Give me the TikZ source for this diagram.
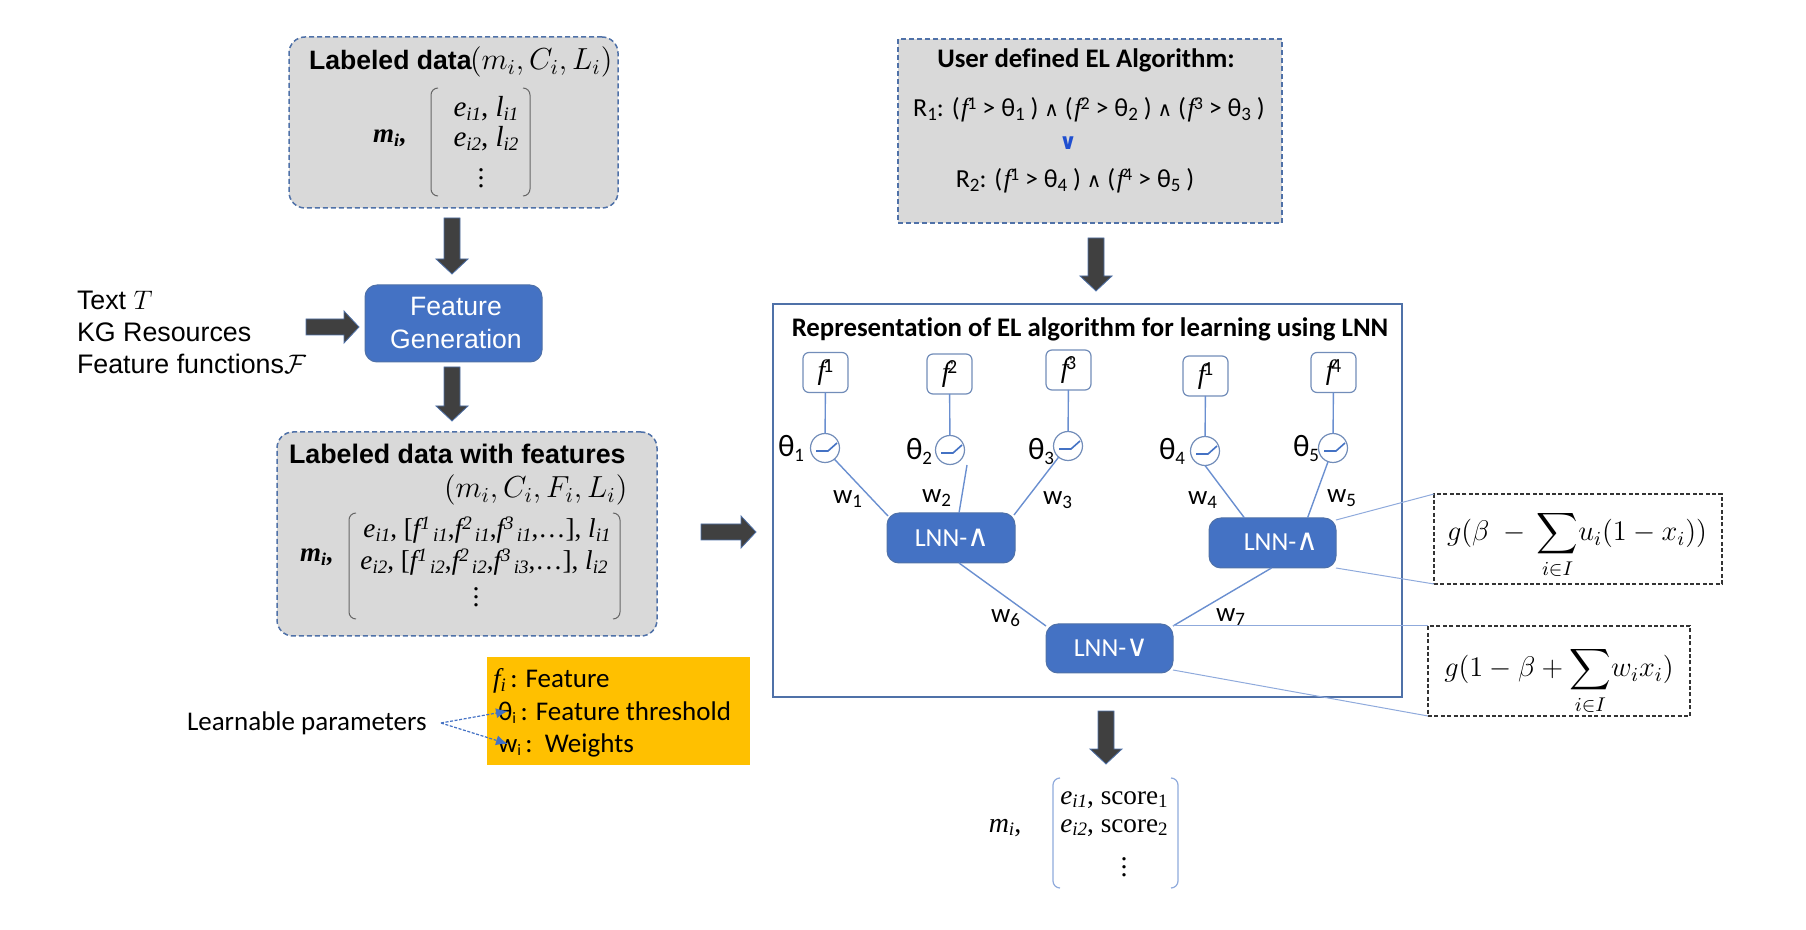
\documentclass[tikz,border=0pt]{standalone}
\usepackage{fix-cm}
\usepackage[no-math]{fontspec}
\usepackage{amsmath}
\setmainfont{Liberation Sans}
\newfontfamily\carl[Ligatures=NoCommon]{Carlito}
\newfontfamily\ser{Liberation Serif}
\newfontfamily\dv{DejaVu Sans}
\usetikzlibrary{calc,arrows.meta}
\definecolor{boxgray}{HTML}{D9D9D9}
\definecolor{fgblue}{HTML}{4472C4}
\definecolor{dashblue}{HTML}{4F71A8}
\definecolor{linkblue}{HTML}{6A8FD0}
\definecolor{thinblue}{HTML}{8FAADC}
\definecolor{darkarrow}{HTML}{404040}
\definecolor{yellowbox}{HTML}{FFC000}
\definecolor{orbl}{HTML}{1F4FD0}
\newcommand{\sz}[1]{\fontsize{#1}{#1}\selectfont}
\newcommand{\sbs}[1]{\raisebox{-0.28ex}{\sz{9.5}#1}}
\newcommand{\sps}[1]{\raisebox{0.6ex}{\sz{9}#1}}
\newcommand{\ffi}[1]{{\ser\itshape #1}}
\newcommand{\sbi}[1]{\raisebox{-0.3ex}{\ser\itshape\sz{9.5}#1}}
\newcommand{\spf}[1]{\raisebox{0.7ex}{\ser\itshape\sz{9.5}#1}}
\newcommand{\fsup}[1]{\ffi{f}\kern-0.5pt\sps{#1}}
\newcommand{\andw}{{\dv\sz{10}∧}}
\newcommand{\fnode}[1]{f\kern-1.2pt\raisebox{0.6ex}{\upshape\carl\sz{10}#1}}
\newcommand{\blockarrow}[3]{\draw[blockar,shift={(#1)},rotate=#2] (0,-8) -- (#3-15,-8) -- (#3-15,-16) -- (#3,0) -- (#3-15,16) -- (#3-15,8) -- (0,8) -- cycle;}
\tikzset{
  x=0.5pt,y=-0.5pt,
  grayround/.style={draw=dashblue,fill=boxgray,line width=0.75pt,dash pattern=on 2.5pt off 1.5pt,rounded corners=8pt,inner sep=0pt,outer sep=0pt},
  graysquare/.style={draw=dashblue,fill=boxgray,line width=0.75pt,dash pattern=on 2.5pt off 1.5pt,inner sep=0pt,outer sep=0pt},
  bluebox/.style={draw=dashblue,line width=0.5pt,fill=fgblue,rounded corners=6pt,inner sep=0pt,outer sep=0pt,text=white,align=center},
  fbox/.style={draw=dashblue!80!white,line width=0.6pt,fill=white,rounded corners=3pt,minimum width=22.5pt,minimum height=20pt,inner sep=0pt,outer sep=0pt,font=\ser\itshape\sz{14}},
  gate/.style={circle,draw=dashblue!80!white,line width=0.6pt,fill=white,minimum size=14.5pt,inner sep=0pt,outer sep=0pt},
  bigbox/.style={draw=dashblue,line width=0.75pt,inner sep=0pt,outer sep=0pt},
  dashbox/.style={draw=black!80,line width=0.6pt,dash pattern=on 2pt off 1.2pt,inner sep=0pt,outer sep=0pt},
  link/.style={draw=linkblue,line width=0.7pt},
  thinlink/.style={draw=thinblue,line width=0.5pt},
  sig/.style={draw=fgblue,line width=0.8pt},
  blockar/.style={draw=dashblue,fill=darkarrow,line width=0.4pt},
  lab/.style={inner sep=0pt,outer sep=0pt,anchor=base},
  labw/.style={inner sep=0pt,outer sep=0pt,anchor=base west},
  bracketline/.style={draw=black!60,line width=0.5pt,rounded corners=3.5pt},
  brlight/.style={draw=thinblue,line width=0.6pt,rounded corners=3.5pt},
}
\begin{document}
\begin{tikzpicture}
\useasboundingbox (0,0) rectangle (1806,930);

% ---- left column boxes
\node[grayround,minimum width=164.5pt,minimum height=85.5pt] (b1) at (453.5,122.5) {};
\node[labw,font=\bfseries\sz{13.3}] (b1t) at (309,70) {Labeled data};
\node[labw,font=\sz{15.2}] (b1m) at (470,70) {$(m_i,C_i,L_i)$};
\draw[bracketline] (438,88) -- (431,88) -- (431,196) -- (438,196);
\draw[bracketline] (523,88) -- (530,88) -- (530,196) -- (523,196);
\node[lab,font=\ser\bfseries\itshape\sz{13.5}] (b1k) at (390,143) {m\raisebox{-0.3ex}{\sz{9}i}\kern0.6pt,};
\node[lab,font=\ser\sz{14.5}] (b1r1) at (486,117) {\ffi{e}\sbi{i1}, \ffi{l}\sbi{i1}};
\node[lab,font=\ser\sz{14.5}] (b1r2) at (486,147) {\ffi{e}\sbi{i2}, \ffi{l}\sbi{i2}};
\node[lab,font=\ser\sz{14}] (b1r3) at (481,188) {$\vdots$};

\node[bluebox,minimum width=88.5pt,minimum height=38.5pt,font=\sz{13.3}] (fg) at (453.5,323.5) {};
\node[lab,font=\sz{13.3},text=white] (fg1) at (456,316) {Feature};
\node[lab,font=\sz{13.3},text=white] (fg2) at (456,349) {Generation};

\node[labw,font=\sz{13.4}] (in1) at (77,310) {Text $T$};
\node[labw,font=\sz{13.4}] (in2) at (77,342) {KG Resources};
\node[labw,font=\sz{13.4}] (in3) at (77,374) {Feature functions$\mathcal{F}$};

\node[grayround,minimum width=190pt,minimum height=102pt] (b2) at (467,534) {};
\node[labw,font=\bfseries\sz{13.4}] (b2t) at (289,464) {Labeled data with features};
\node[labw,font=\sz{15.2}] (b2m) at (444,498) {$(m_i,C_i,F_i,L_i)$};
\draw[bracketline] (356,513) -- (349,513) -- (349,619) -- (356,619);
\draw[bracketline] (613,513) -- (620,513) -- (620,619) -- (613,619);
\node[lab,font=\ser\bfseries\itshape\sz{13.5}] (b2k) at (317,562) {m\raisebox{-0.3ex}{\sz{9}i}\kern0.6pt,};
\node[lab,font=\ser\sz{13.6}] (b2r1) at (487,538) {\ffi{e}\sbi{i1}, [\ffi{f}\spf{1}\sbi{\,i1},\ffi{f}\spf{2}\sbi{\,i1},\ffi{f}\spf{3}\sbi{\,i1},…], \ffi{l}\sbi{i1}};
\node[lab,font=\ser\sz{13.6}] (b2r2) at (484,570) {\ffi{e}\sbi{i2}, [\ffi{f}\spf{1}\sbi{\,i2},\ffi{f}\spf{2}\sbi{\,i2},\ffi{f}\spf{3}\sbi{\,i3},…], \ffi{l}\sbi{i2}};
\node[lab,font=\ser\sz{14}] (b2r3) at (476,607) {$\vdots$};

% ---- user-defined algorithm
\node[graysquare,minimum width=192pt,minimum height=92pt] (b3) at (1090,131) {};
\node[lab,font=\carl\bfseries\sz{13.4}] (b3t) at (1086,68) {User defined EL Algorithm:};
\node[lab,font=\carl\sz{13}] (r1) at (1089,117) {R\sbs{1}: (\kern0.8pt\fsup{1} > θ\sbs{1} ) \andw{} (\kern0.8pt\fsup{2} > θ\sbs{2} ) \andw{} (\kern0.8pt\fsup{3} > θ\sbs{3} )};
\node[lab,font=\dv\bfseries\sz{11},text=orbl] (orv) at (1068,150) {∨};
\node[lab,font=\carl\sz{13}] (r2) at (1075,188) {R\sbs{2}: (\kern0.8pt\fsup{1} > θ\sbs{4} ) \andw{} (\kern0.8pt\fsup{4} > θ\sbs{5} )};

% ---- LNN frame
\node[bigbox,minimum width=314.5pt,minimum height=196.5pt] (big) at (1087.5,500.5) {};
\node[lab,font=\carl\bfseries\sz{13.4}] (bigt) at (1090,337) {Representation of EL algorithm for learning using LNN};

\node[fbox] (f1) at (825.5,372.5) {\fnode{1}};
\node[fbox] (f2) at (949.5,374) {\fnode{2}};
\node[fbox] (f3) at (1068.5,370) {\fnode{3}};
\node[fbox] (f1b) at (1205.5,376) {\fnode{1}};
\node[fbox] (f4) at (1333.5,372.5) {\fnode{4}};

\node[gate] (c1) at (825,448) {};
\node[gate] (c2) at (950,450) {};
\node[gate] (c3) at (1068,446) {};
\node[gate] (c4) at (1205,451) {};
\node[gate] (c5) at (1333,448) {};
\foreach \c in {c1,c2,c3,c4,c5}{\draw[sig] ($(\c)+(-9,3)$) -- ($(\c)+(3,3)$) -- ($(\c)+(12,-5)$);}

\node[bluebox,minimum width=64pt,minimum height=25pt] (la) at (951,538) {};
\node[bluebox,minimum width=63.5pt,minimum height=25pt] (lb) at (1272.5,543) {};
\node[bluebox,minimum width=63.5pt,minimum height=24.5pt] (lc) at (1109.5,648.5) {};
\node[lab,font=\carl\sz{13},text=white] (lat) at (952,547) {LNN-{\dv\sz{15}∧}};
\node[lab,font=\carl\sz{13},text=white] (lbt) at (1281,551) {LNN-{\dv\sz{15}∧}};
\node[lab,font=\carl\sz{13},text=white] (lct) at (1111,656) {LNN-{\dv\sz{15}∨}};

\draw[link] (f1) -- (c1);
\draw[link] (f2) -- (c2);
\draw[link] (f3) -- (c3);
\draw[link] (f1b) -- (c4);
\draw[link] (f4) -- (c5);
\draw[link] (c1.-50) -- ($(la.north west)+(1,3)$);
\draw[link] ($(c2)+(17,15)$) -- ($(la.north)+(8,0)$);
\draw[link] (c3.-130) -- ($(la.north east)+(-1,2)$);
\draw[link] (c4.-90) -- ($(lb.north)+(-28,0)$);
\draw[link] (c5.-110) -- ($(lb.north)+(35,0)$);
\draw[link] ($(la.south)+(8,0)$) -- ($(lc.north west)+(0,2)$);
\draw[link] ($(lb.south)+(-1,0)$) -- ($(lc.north east)+(0,2)$);

% ---- formula boxes
\node[dashbox,minimum width=144pt,minimum height=45pt] (g1) at (1578,539) {};
\node[dashbox,minimum width=131pt,minimum height=45pt] (g2) at (1559,671) {};
\node[inner sep=0pt,font=\sz{14.2}] (g1t) at (1577,545) {$g(\beta\;-\,\displaystyle\sum_{i\in I}\!u_i(1-x_i))$};
\node[inner sep=0pt,font=\sz{14.2}] (g2t) at (1559,681) {$g(1-\beta+\displaystyle\sum_{i\in I}\!w_ix_i)$};
\draw[thinlink] ($(lb.north east)+(0,2)$) -- (g1.north west);
\draw[thinlink] (lb.south east) -- (g1.south west);
\draw[thinlink] ($(lc.north east)+(0,2)$) -- (g2.north west);
\draw[thinlink] ($(lc.south east)+(0,-3)$) -- (g2.south west);

% ---- angles and weights
\foreach \n/\x/\y/\t in {ta/778/457/1,tb/906/460/2,tc/1028/460/3,td/1159/460/4,te/1293/457/5}{
  \node[labw,font=\carl\sz{15.5}] (\n) at (\x,\y) {θ\sbs{\t}};}
\foreach \n/\x/\y/\t in {wa/833/504/1,wb/922/503/2,wc/1043/505/3,wd/1188/505/4,we/1327/503/5,wf/991/623/6,wg/1216/622/7}{
  \node[labw,font=\carl\sz{13.5}] (\n) at (\x,\y) {w\sbs{\t}};}

% ---- yellow legend
\node[fill=yellowbox,minimum width=131.5pt,minimum height=54pt,inner sep=0pt,outer sep=0pt] (leg) at (618.5,711) {};
\node[labw,font=\carl\sz{13.5}] (leg1) at (493,688) {{\ser\itshape f\sbi{i}}\,: Feature};
\node[labw,font=\carl\sz{13.5}] (leg2) at (498,720) {θ\sbs{\sz{8}i}\,: Feature threshold};
\node[labw,font=\carl\sz{13.5}] (leg3) at (498,752) {w\sbs{\sz{8}i}\,:\ \ Weights};
\node[labw,font=\carl\sz{13.5}] (lp) at (187,730) {Learnable parameters};
\coordinate (lps) at (441,723);
\draw[draw=fgblue,line width=0.6pt,dash pattern=on 1.5pt off 0.8pt,-{Latex[length=6pt,width=5pt]}] (lps) -- ($(leg.west)+(21,0)$);
\draw[draw=fgblue,line width=0.6pt,dash pattern=on 1.5pt off 0.8pt,-{Latex[length=6pt,width=5pt]}] (lps) -- ($(leg.west)+(21,33)$);

% ---- result matrix
\draw[brlight] (1060,778) -- (1053,778) -- (1053,888) -- (1060,888);
\draw[brlight] (1171,778) -- (1178,778) -- (1178,888) -- (1171,888);
\node[lab,font=\ser\sz{14}] (mk) at (1005,832) {\ffi{m}\sbi{i},};
\node[lab,font=\ser\sz{13.6}] (mr1) at (1114,804) {\ffi{e}\sbi{i1}, score\raisebox{-0.3ex}{\sz{9.5}1}};
\node[lab,font=\ser\sz{13.6}] (mr2) at (1114,832) {\ffi{e}\sbi{i2}, score\raisebox{-0.3ex}{\sz{9.5}2}};
\node[lab,font=\ser\sz{14}] (mr3) at (1124,876) {$\vdots$};

% ---- block arrows
\blockarrow{$(b1.south)+(-1.5,10)$}{-90}{56}
\blockarrow{$(fg.south)+(-1.5,5)$}{-90}{54}
\blockarrow{$(fg.west)+(-59,3.5)$}{0}{53}
\blockarrow{$(b3.south)+(6,15)$}{-90}{53}
\blockarrow{$(big.west)+(-72,31.5)$}{0}{55}
\blockarrow{$(lc.south)+(-3.5,38)$}{-90}{53}
\end{tikzpicture}
\end{document}
